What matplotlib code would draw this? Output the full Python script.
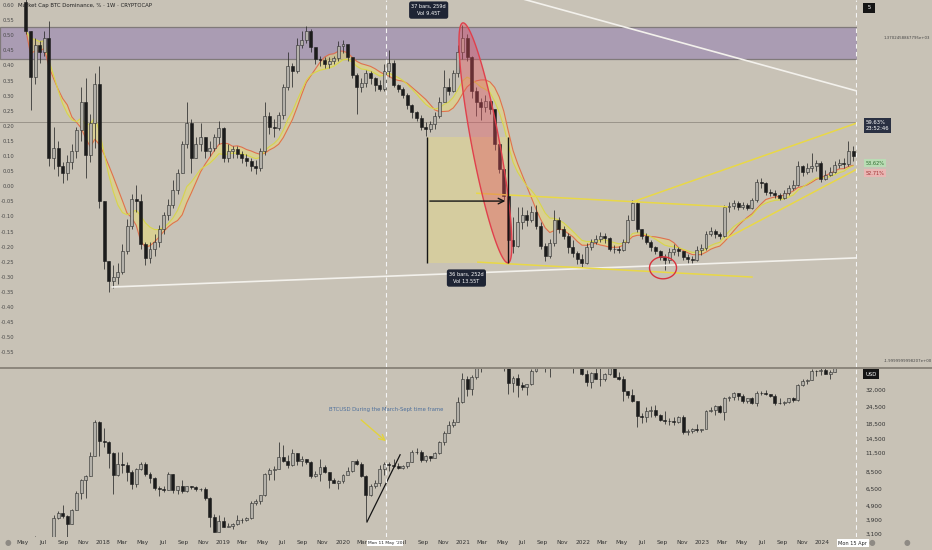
import numpy as np
import pandas as pd
import matplotlib
matplotlib.use("Agg")
import matplotlib.pyplot as plt
import matplotlib.dates as mdates
from matplotlib.patches import Rectangle, Polygon
from matplotlib.ticker import NullLocator, FuncFormatter
from matplotlib.lines import Line2D

BG = "#c8c2b6"
W, H = 932, 550

# ---- data (bi-weekly candles) ----
start = "2017-05-11"

dom_open0 = 76.5
dom_close = [72.5, 66.0, 70.5, 69.5, 71.5, 54.5, 56.0, 53.5, 52.5, 54.0,
             55.5, 58.5, 62.5, 55.0, 59.5, 65.0, 48.5, 40.0, 37.2, 37.8,
             38.5, 41.5, 45.0, 48.8, 48.5, 42.5, 40.5, 41.8, 42.8, 44.5,
             46.5, 48.0, 50.0, 52.5, 56.5, 59.5, 54.5, 56.5, 57.5, 55.5,
             56.0, 57.5, 58.8, 54.5, 55.5, 55.8, 55.2, 54.6, 54.2, 53.5,
             53.2, 55.5, 60.5, 59.0, 58.8, 60.6, 64.5, 67.5, 66.8, 70.5,
             71.2, 72.5, 70.2, 68.5, 68.3, 67.8, 68.2, 68.6, 70.3, 70.6,
             68.8, 66.2, 64.5, 65.2, 66.5, 65.8, 64.8, 64.3, 66.8, 68.0,
             64.8, 64.3, 63.5, 62.0, 61.0, 60.2, 59.0, 58.6, 59.4, 60.5,
             62.5, 64.5, 64.0, 66.5, 69.5, 71.5, 68.8, 64.0, 62.5, 61.8,
             62.6, 61.5, 56.5, 53.0, 49.2, 43.0, 42.2, 45.5, 46.6, 45.8,
             47.0, 45.0, 42.2, 40.8, 42.6, 45.8, 44.6, 43.6, 42.0, 41.2,
             40.3, 39.8, 42.0, 42.8, 43.2, 43.6, 43.3, 41.8, 41.8, 41.6,
             42.8, 45.8, 48.2, 44.6, 43.6, 42.8, 42.0, 41.4, 40.6, 40.2,
             41.3, 41.7, 41.4, 40.6, 40.3, 40.2, 41.6, 41.9, 43.8, 44.3,
             43.9, 43.6, 47.6, 47.8, 48.2, 47.6, 47.9, 47.5, 48.6, 51.2,
             51.0, 49.8, 49.6, 49.4, 49.0, 49.6, 50.3, 50.8, 53.4, 52.6,
             53.2, 53.5, 53.8, 51.6, 52.2, 52.6, 53.6, 53.9, 53.7, 55.6,
             54.8]
dom_high = [77.0, 72.5, 71.5, 71.0, 72.5, 73.8, 59.0, 57.0, 54.0, 55.0,
            56.5, 59.0, 64.5, 65.8, 60.8, 66.5, 67.5, 48.5, 40.0, 39.5,
            39.8, 42.5, 46.0, 49.5, 50.7, 49.5, 42.8, 42.8, 43.8, 45.2,
            47.0, 48.8, 51.5, 53.0, 57.0, 62.5, 60.0, 57.5, 59.5, 57.5,
            57.0, 58.0, 59.8, 59.0, 56.5, 56.3, 56.2, 55.6, 55.2, 54.5,
            54.3, 56.0, 62.5, 61.0, 60.0, 61.0, 65.0, 69.5, 68.0, 71.5,
            72.5, 73.2, 72.8, 70.0, 69.0, 68.8, 68.8, 69.0, 71.0, 71.2,
            70.2, 68.6, 66.5, 65.8, 67.0, 66.8, 66.0, 65.5, 67.8, 69.8,
            68.4, 65.0, 64.5, 63.7, 62.2, 61.2, 60.6, 59.6, 59.8, 61.0,
            63.2, 67.0, 65.8, 67.0, 70.5, 73.3, 72.0, 69.0, 64.5, 63.0,
            63.5, 63.0, 61.5, 56.5, 53.0, 49.2, 46.3, 47.7, 47.7, 47.2,
            47.8, 48.0, 45.5, 42.6, 43.2, 47.3, 46.2, 45.0, 44.0, 43.0,
            41.5, 41.0, 42.6, 43.2, 43.7, 44.2, 44.0, 43.5, 42.3, 42.2,
            43.2, 46.5, 48.6, 48.4, 44.6, 44.0, 43.0, 42.2, 41.6, 41.0,
            41.9, 42.4, 42.0, 41.4, 41.0, 40.8, 42.2, 42.4, 44.3, 44.8,
            44.5, 44.2, 47.9, 48.3, 48.6, 48.5, 48.4, 48.2, 49.0, 51.6,
            51.8, 51.2, 50.2, 50.0, 49.7, 50.0, 50.8, 51.4, 54.2, 53.6,
            53.8, 55.3, 54.3, 54.2, 52.9, 53.3, 54.2, 54.4, 54.6, 57.0,
            56.2]
dom_low = [72.0, 61.3, 65.0, 68.0, 69.0, 53.5, 53.0, 52.0, 51.0, 51.5,
           53.0, 54.5, 57.0, 51.8, 54.0, 56.0, 47.5, 39.0, 35.7, 36.3,
           36.8, 38.2, 41.0, 44.5, 47.0, 41.8, 39.5, 39.8, 40.8, 42.0,
           43.8, 45.8, 47.5, 49.5, 52.5, 56.0, 52.5, 54.5, 55.5, 54.5,
           54.8, 55.5, 56.5, 54.0, 54.0, 54.6, 54.6, 53.9, 53.5, 52.8,
           52.3, 52.8, 55.0, 58.0, 57.5, 58.5, 60.0, 64.2, 64.5, 66.5,
           70.0, 70.8, 69.5, 67.8, 67.5, 67.2, 67.3, 67.8, 68.2, 69.3,
           68.2, 65.8, 60.8, 63.8, 64.5, 65.0, 64.0, 64.0, 64.0, 66.0,
           64.5, 63.8, 63.0, 61.5, 60.2, 59.8, 58.5, 57.7, 58.2, 58.6,
           60.2, 62.5, 63.5, 63.8, 66.0, 68.5, 68.2, 63.0, 60.5, 59.9,
           61.0, 60.8, 55.7, 52.5, 48.6, 39.8, 41.2, 42.0, 44.6, 45.0,
           45.6, 44.5, 41.8, 40.0, 40.5, 42.2, 44.0, 43.2, 41.2, 40.6,
           39.6, 39.2, 39.6, 41.6, 42.4, 42.8, 42.6, 41.5, 41.2, 41.2,
           41.5, 42.6, 45.8, 44.2, 43.2, 42.4, 41.5, 41.0, 40.2, 38.8,
           39.8, 40.9, 40.8, 40.2, 39.8, 39.7, 40.1, 40.9, 41.6, 43.6,
           43.3, 43.1, 43.4, 47.0, 47.4, 47.3, 47.4, 47.3, 47.4, 48.4,
           50.4, 49.4, 49.2, 48.9, 48.6, 48.8, 49.4, 50.0, 50.6, 52.1,
           52.3, 52.6, 52.8, 51.2, 51.4, 52.0, 52.5, 53.2, 53.2, 53.5,
           54.2]

btc_open0 = 1750
btc_close = [2050, 2520, 2500, 2500, 1930, 2750, 4050, 4350, 4150, 3640,
             4600, 6000, 7400, 8000, 11000, 19100, 14000, 13800, 11500, 8100,
             9600, 9500, 8500, 7000, 8900, 9650, 8200, 7700, 6500, 6380,
             6350, 8200, 6300, 6700, 6200, 6700, 6600, 6400, 6400, 5600,
             4100, 3200, 3850, 3500, 3550, 3650, 3900, 3900, 4000, 5100,
             5300, 5800, 8200, 8700, 8900, 10800, 10200, 9500, 11500, 10100,
             10400, 10000, 7900, 8200, 9200, 8500, 7400, 7100, 7300, 8100,
             8600, 10100, 9700, 8000, 5800, 6800, 7100, 8900, 9700, 9450,
             9400, 9000, 9300, 9900, 11700, 11650, 10250, 11000, 10650, 11500,
             13800, 16000, 18200, 19200, 26500, 38200, 32300, 39200, 57500, 51000,
             58000, 58800, 56200, 56600, 46500, 35700, 39100, 34700, 33800, 35400,
             43800, 49300, 51800, 47300, 48200, 61500, 61300, 65000, 57300, 50100,
             50800, 41800, 36300, 42400, 38400, 38400, 41300, 46400, 39700, 38500,
             31300, 29400, 26600, 21000, 20800, 22600, 23200, 21500, 19800, 19400,
             19300, 19100, 20600, 16300, 16500, 17100, 16800, 16900, 22700, 23000,
             24600, 22400, 28000, 28400, 30300, 29200, 26900, 28100, 25800, 30500,
             30300, 29800, 29000, 26100, 25900, 26500, 27900, 27000, 34500, 37000,
             37500, 43800, 43700, 43900, 41600, 43000, 52100, 63100, 68400, 71300,
             65700]
btc_high = [2100, 2780, 2980, 2770, 2660, 2900, 4200, 4480, 4980, 4200,
            4650, 6200, 7600, 8100, 11800, 19800, 19300, 17200, 13900, 11700,
            11800, 11700, 9900, 8700, 9000, 9990, 9900, 8500, 7750, 6800,
            6800, 8500, 8200, 6800, 7400, 6800, 6800, 6700, 6500, 6600,
            5650, 4300, 4250, 4100, 3700, 3700, 4200, 4000, 4100, 5300,
            5450, 5850, 8300, 9100, 9300, 13800, 13200, 11100, 12300, 11500,
            10900, 10400, 10100, 8650, 10500, 9500, 8500, 7700, 7500, 8250,
            9200, 10100, 10500, 9950, 8100, 7000, 7500, 9450, 10000, 9900,
            10400, 9800, 9500, 10000, 12100, 12450, 12100, 11200, 11000, 11700,
            14000, 16500, 19500, 19900, 28400, 41900, 40000, 41000, 58300, 57600,
            61800, 60200, 64900, 57000, 59600, 46600, 39900, 41300, 36600, 35500,
            44700, 49800, 51900, 52900, 48400, 62000, 67000, 69000, 66400, 59100,
            52000, 52100, 44500, 42600, 45800, 45400, 42400, 48200, 47200, 42900,
            40000, 31400, 32400, 26800, 22000, 24200, 24600, 25200, 21800, 22800,
            20300, 20500, 21000, 21400, 17100, 17400, 18400, 17000, 23300, 24200,
            25200, 25100, 28400, 29200, 31000, 30500, 29800, 28300, 28400, 31400,
            31400, 31800, 30000, 30200, 28100, 26900, 28000, 28600, 35200, 38000,
            38400, 44700, 44300, 45900, 49000, 43900, 52800, 64000, 73800, 71600,
            72800]
btc_low = [1650, 1920, 2450, 2320, 1830, 1860, 2650, 3950, 4000, 2970,
           3650, 4600, 5500, 5600, 7900, 11000, 11000, 12800, 9000, 5900,
           8000, 8400, 7300, 6450, 6650, 8700, 7950, 7040, 6300, 5750,
           6080, 6300, 6000, 5900, 6050, 6100, 6400, 6200, 6250, 5400,
           3500, 3200, 3200, 3500, 3450, 3380, 3600, 3700, 3850, 3950,
           4950, 5050, 5700, 7500, 7450, 8900, 10000, 9100, 9400, 9500,
           9300, 9700, 7700, 7800, 7300, 8400, 6550, 7100, 6400, 7100,
           8200, 8500, 9500, 7850, 3800, 5700, 6500, 6800, 8100, 8600,
           9150, 8850, 8900, 9100, 9900, 11300, 9900, 9900, 10200, 10550,
           11400, 13200, 15900, 17600, 19000, 26000, 28900, 29300, 38000, 43000,
           50400, 50400, 51300, 47000, 43800, 30000, 31000, 28800, 32100, 29300,
           34700, 42800, 46300, 42800, 39600, 47100, 58000, 59400, 53300, 42000,
           45600, 40700, 34000, 33000, 38000, 34400, 37200, 40500, 39200, 37600,
           26700, 28000, 26500, 17600, 18800, 19000, 20700, 20800, 19500, 18300,
           18100, 18200, 18700, 15600, 15500, 16000, 16300, 16300, 17200, 22300,
           21400, 21900, 19600, 26600, 27300, 27000, 26000, 26000, 25400, 24800,
           29500, 29600, 28600, 25200, 25400, 24900, 26000, 26500, 26800, 33900,
           35000, 37600, 40300, 40800, 41300, 38500, 42600, 50600, 61800, 60800,
           61000]

pct_ticks = [v for v in range(26, 75, 2) if v != 60]
usd_ticks = [32000, 24500, 18500, 14500, 11500, 8500, 6500, 4900, 3900, 3100]
left_ticks = np.round(np.arange(0.60, -0.56, -0.05), 2)

dates = pd.date_range(start, periods=len(dom_close), freq="14D")
xd = mdates.date2num(dates)
D = lambda s: mdates.date2num(pd.Timestamp(s))


def candles(a, x, o0, c, h, l, width=9):
    c = np.asarray(c, float)
    o = np.r_[o0, c[:-1]]
    up = c >= o
    a.vlines(x, l, h, color="#2b2b2b", lw=0.55, zorder=3)
    a.bar(x[up], (c - o)[up], width, bottom=o[up], color="#b4b1aa",
          edgecolor="#2b2b2b", lw=0.4, zorder=4)
    a.bar(x[~up], (o - c)[~up], width, bottom=c[~up], color="#1c1c1c",
          edgecolor="#1c1c1c", lw=0.4, zorder=4)


def px_ellipse(a, cx, cy, w, h, ang=0, **kw):
    # ellipse sized in screen pixels, anchored at a data point
    x0, y0 = a.transData.transform((cx, cy))
    t = np.linspace(0, 2 * np.pi, 120)
    r = np.deg2rad(ang)
    ex = w / 2 * np.cos(t)
    ey = h / 2 * np.sin(t)
    px = x0 + ex * np.cos(r) - ey * np.sin(r)
    py = y0 + ex * np.sin(r) + ey * np.cos(r)
    pts = a.transData.inverted().transform(np.c_[px, py])
    a.add_patch(Polygon(pts, closed=True, **kw))


def frame(x0, y0, x1, y1):
    return [x0 / W, 1 - y1 / H, (x1 - x0) / W, (y1 - y0) / H]


fig = plt.figure(figsize=(9.32, 5.5), dpi=100, facecolor=BG)
ax = fig.add_axes(frame(0, 0, 857, 367))
axb = fig.add_axes(frame(0, 368, 857, 537), sharex=ax)

x_left = D("2017-02-21")
for a in (ax, axb):
    a.set_facecolor(BG)
    for s in a.spines.values():
        s.set_visible(False)
ax.set_xlim(x_left, x_left + 2611)
ax.set_ylim(25.13, 76.82)
axb.set_yscale("log")
axb.set_ylim(2954, 45710)

# ---- top panel: dominance ----
ax.axhspan(68.5, 73.0, facecolor="#aa9cb3", edgecolor="#807a7a", lw=0.9, zorder=1)
ax.axhline(59.63, color="#9a948a", lw=0.7, zorder=1)

s = pd.Series(dom_close, index=xd)
sma = s.rolling(10, min_periods=1).mean()
ema = s.ewm(span=11, adjust=False).mean()
ax.fill_between(xd, sma, ema, color="#e6da78", alpha=0.55, lw=0, zorder=2)
ax.plot(xd, sma, color="#e0704e", lw=0.8, zorder=2)
ax.plot(xd, ema, color="#d8d64a", lw=0.8, zorder=2)

candles(ax, xd, dom_open0, dom_close, dom_high, dom_low)

# measure tool box
m0, m1 = D("2020-09-14"), D("2021-05-19")
ax.add_patch(Rectangle((m0, 39.8), m1 - m0, 57.5 - 39.8, facecolor="#d9cf9a",
                       alpha=0.8, lw=0, zorder=2))
ax.vlines([m0, m1], 39.8, 57.5, color="#151515", lw=1.0, zorder=6)
ax.annotate("", xy=(m1, 48.5), xytext=(m0, 48.5),
            arrowprops=dict(arrowstyle="->", color="#151515", lw=1.0), zorder=6)

# trend lines
ax.plot([D("2018-01-29"), D("2024-04-16")], [36.4, 40.5], color="#f3f1ec", lw=1.2, zorder=5)
ax.plot([D("2021-06-30"), D("2024-04-16")], [77.0, 64.0], color="#f3f1ec", lw=1.2, zorder=5)
yel = "#e9d846"
ax.plot([D("2022-06-03"), D("2024-04-16")], [48.4, 59.5], color=yel, lw=1.1, zorder=5)
ax.plot([D("2021-02-13"), D("2023-03-17")], [49.6, 47.7], color=yel, lw=1.1, zorder=5)
ax.plot([D("2023-03-17"), D("2024-04-16")], [43.3, 53.0], color=yel, lw=1.1, zorder=5)
ax.plot([D("2021-02-16"), D("2023-06-01")], [39.9, 37.8], color=yel, lw=1.1, zorder=5)

# ellipses
top = ax.transData.transform((D("2021-01-01"), 73.6))
bot = ax.transData.transform((D("2021-05-19"), 39.8))
mid = ax.transData.inverted().transform((top + bot) / 2)
length = np.hypot(*(top - bot))
ang = np.degrees(np.arctan2(*(top - bot)[::-1]))
px_ellipse(ax, mid[0], mid[1], length, 28, ang, facecolor="#e4505c", alpha=0.38,
           edgecolor="none", zorder=5)
px_ellipse(ax, mid[0], mid[1], length, 28, ang, facecolor="none",
           edgecolor="#e0404c", lw=1.0, zorder=5)
px_ellipse(ax, D("2022-09-03"), 39.1, 27, 22, 0, facecolor="none",
           edgecolor="#d9323c", lw=1.0, zorder=6)

box = dict(boxstyle="round,pad=0.45", fc="#1e2434", ec="none")
ax.text(D("2020-09-19"), 75.4, "37 bars, 259d\nVol 9.45T", fontsize=3.6, color="white",
        ha="center", va="center", bbox=box, zorder=8, linespacing=1.7)
ax.text(D("2021-01-12"), 37.66, "36 bars, 252d\nVol 13.55T", fontsize=3.6, color="white",
        ha="center", va="center", bbox=box, zorder=8, linespacing=1.7)

# axes labels, top panel
ax.yaxis.tick_right()
ax.set_yticks(pct_ticks)
ax.set_yticklabels([f"{v:.2f}%" for v in pct_ticks])
ax.tick_params(axis="y", length=0, pad=6, labelsize=4.2, labelcolor="#333333")
ax.tick_params(axis="x", length=0, labelbottom=False)

# overlay scale drawn inside the left edge
axl = ax.twinx()
axl.set_ylim(-0.5987, 0.6166)
for s_ in axl.spines.values():
    s_.set_visible(False)
axl.yaxis.tick_left()
axl.set_yticks(left_ticks)
axl.set_yticklabels([f"{(0.0 if abs(v) < 1e-9 else v):.2f}" for v in left_ticks])
axl.tick_params(axis="y", length=0, pad=-10.5, labelsize=3.8, labelcolor="#4a4a4a")

tr = ax.get_yaxis_transform()
ax.text(1.01, 75.7, " 5 ", transform=tr, fontsize=4, color="white", va="center",
        bbox=dict(boxstyle="square,pad=0.5", fc="#151515", ec="none"), clip_on=False)
ax.text(1.031, 71.46, "1.3702458867795e+03", transform=tr, fontsize=2.8, color="#444444",
        va="center", clip_on=False)
ax.text(1.031, 25.97, "-1.9999999998207e+00", transform=tr, fontsize=2.8, color="#444444",
        va="center", clip_on=False)
ax.text(1.01, 59.2, "59.63%\n23:52:46", transform=tr, fontsize=3.8, color="white",
        va="center", linespacing=1.3, clip_on=False,
        bbox=dict(boxstyle="square,pad=0.35", fc="#2a3042", ec="none"))
ax.text(1.01, 53.86, "53.62%", transform=tr, fontsize=3.6, color="#2f6b2f", va="center",
        clip_on=False, bbox=dict(boxstyle="square,pad=0.25", fc="#b9dcb4", ec="none"))
ax.text(1.01, 52.45, "52.71%", transform=tr, fontsize=3.6, color="#a03030", va="center",
        clip_on=False, bbox=dict(boxstyle="square,pad=0.25", fc="#e9b6b4", ec="none"))

# ---- bottom panel: BTCUSD ----
candles(axb, xd, btc_open0, btc_close, btc_high, btc_low)
axb.plot([D("2020-03-15"), D("2020-06-24")], [3770, 11200], color="#151515", lw=0.9, zorder=5)
axb.text(D("2020-05-12"), 23150, "BTCUSD During the March-Sept time frame", color="#4d6f9c",
         fontsize=3.8, ha="center", va="center", zorder=7)
axb.annotate("", xy=(D("2020-05-18"), 13540), xytext=(D("2020-02-20"), 20300),
             arrowprops=dict(arrowstyle="->", color="#e2d23e", lw=1.0), zorder=7)

axb.yaxis.tick_right()
axb.set_yticks(usd_ticks)
axb.yaxis.set_minor_locator(NullLocator())
axb.set_yticklabels([f"{v:,}" for v in usd_ticks])
axb.tick_params(axis="y", length=0, pad=6, labelsize=4.2, labelcolor="#333333")
axb.text(1.01, 41450, "USD", transform=axb.get_yaxis_transform(), fontsize=3.8, color="white",
         va="center", clip_on=False, bbox=dict(boxstyle="square,pad=0.5", fc="#151515", ec="none"))

# time axis: odd months, year at January; hidden where the crosshair boxes sit
hidden = {(2017, 3), (2020, 5), (2024, 3)}


def month_label(v, p):
    d = mdates.num2date(v)
    if (d.year, d.month) in hidden:
        return ""
    return str(d.year) if d.month == 1 else d.strftime("%b")


axb.xaxis.set_major_locator(mdates.MonthLocator(bymonth=[1, 3, 5, 7, 9, 11]))
axb.xaxis.set_minor_locator(NullLocator())
axb.xaxis.set_major_formatter(FuncFormatter(month_label))
axb.tick_params(axis="x", length=0, pad=2.5, labelsize=4.2, labelcolor="#333333")

xt = axb.get_xaxis_transform()
axb.text(D("2020-05-09"), -0.036, "Mon 11 May '20", transform=xt, fontsize=3.2, color="#222222",
         ha="center", va="center", clip_on=False, zorder=9,
         bbox=dict(boxstyle="square,pad=0.2", fc="white", ec="none"))
axb.text(D("2024-04-03"), -0.036, "Mon 15 Apr", transform=xt, fontsize=3.6, color="#222222",
         ha="center", va="center", clip_on=False, zorder=9,
         bbox=dict(boxstyle="square,pad=0.35", fc="white", ec="none"))

# crosshair dashes
for a in (ax, axb):
    a.axvline(D("2020-05-11"), color="#f4f4f4", lw=0.8, ls=(0, (4, 3)), zorder=6)
    a.axvline(D("2024-04-14"), color="#f4f4f4", lw=0.8, ls=(0, (4, 3)), zorder=6)

fig.add_artist(Line2D([0, 1], [1 - 367.5 / H] * 2, color="#8c867c", lw=1.4))
fig.text(18 / W, 1 - 6 / H, "Market Cap BTC Dominance, % · 1W · CRYPTOCAP", fontsize=3.9,
         color="#222222", va="center")
for xx in (8, 872, 907):
    fig.text(xx / W, 1 - 543 / H, "●", fontsize=5.5, color="#8e8a84", ha="center", va="center")

fig.savefig("out.png", dpi=100, facecolor=BG)
